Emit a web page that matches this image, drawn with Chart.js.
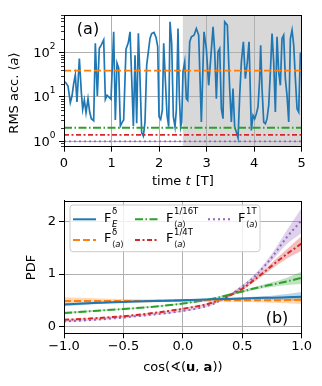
<!DOCTYPE html>
<html>
<head>
<meta charset="utf-8">
<title>RMS acceleration and alignment PDF</title>
<script src="https://cdn.jsdelivr.net/npm/chart.js@4"></script>
<style>
    body { margin: 0; background: #ffffff; }
    #wrap { position: relative; width: 322px; height: 386px; }
    #topChart { position: absolute; left: 0; top: 0; }
    #botChart { position: absolute; left: 0; top: 190px; }
</style>
</head>
<body>
<div id="wrap">
    <canvas id="topChart" width="322" height="190"></canvas>
    <canvas id="botChart" width="322" height="196"></canvas>
</div>
<script>
// ---- panel (a): RMS acceleration vs time ----
const times = [0, 0.035, 0.084, 0.133, 0.168, 0.203, 0.238, 0.273, 0.323, 0.365,
    0.393, 0.428, 0.463, 0.505, 0.54, 0.575, 0.624, 0.659, 0.701, 0.743,
    0.785, 0.835, 0.87, 0.905, 0.94, 0.989, 1.045, 1.08, 1.115, 1.15,
    1.185, 1.22, 1.255, 1.304, 1.353, 1.389, 1.424, 1.459, 1.494, 1.529,
    1.564, 1.599, 1.634, 1.669, 1.704, 1.739, 1.774, 1.809, 1.844, 1.893,
    1.935, 1.971, 1.999, 2.034, 2.069, 2.097, 2.132, 2.167, 2.202, 2.23,
    2.265, 2.3, 2.335, 2.363, 2.398, 2.426, 2.454, 2.475, 2.503, 2.539,
    2.574, 2.602, 2.644, 2.679, 2.735, 2.784, 2.833, 2.889, 2.945, 2.994,
    3.043, 3.086, 3.135, 3.17, 3.205, 3.24, 3.275, 3.31, 3.345, 3.38,
    3.436, 3.485, 3.52, 3.555, 3.59, 3.626, 3.661, 3.696, 3.731, 3.773,
    3.815, 3.857, 3.892, 3.941, 3.976, 4.011, 4.046, 4.081, 4.116, 4.137,
    4.166, 4.201, 4.236, 4.271, 4.306, 4.341, 4.376, 4.411, 4.446, 4.481,
    4.516, 4.551, 4.586, 4.621, 4.656, 4.691, 4.727, 4.762, 4.797, 4.832,
    4.867, 4.902, 4.937, 4.972, 5.0];
const rmsAcc = [22.2, 21.1, 17.7, 7.45, 10.5, 19.7, 31.4, 7.7, 73.2, 12.5,
    5.27, 8.56, 4.43, 9.17, 4.59, 3.25, 2.93, 162, 10.5, 125,
    149, 193, 8.86, 10.9, 10, 8.86, 293, 3.03, 57.5, 44.3,
    2.22, 2.64, 3.03, 119, 168, 293, 25.9, 2.22, 87.1, 2.55,
    273, 25.9, 1.57, 1.32, 2.73, 51.8, 104, 207, 268, 283,
    222, 137, 3.6, 3.13, 5.09, 162, 24.2, 3.93, 2.14, 492,
    162, 3.6, 2.14, 5.09, 348, 10.2, 2.14, 2.73, 36.6, 61.6,
    9.17, 8.41, 174, 226, 246, 348, 246, 2.73, 293, 123,
    18.3, 73.2, 379, 104, 9.17, 104, 123, 5.45, 3.25, 492,
    414, 15.4, 2.73, 15.4, 2.11, 1.62, 1.19, 10.9, 61.6, 174,
    25.9, 61.6, 174, 1.77, 3.86, 3.25, 4.21, 5.95, 25.9, 146,
    15.4, 2.73, 2.5, 3.25, 6.49, 36.6, 268, 61.6, 4.59, 226,
    36.6, 18.3, 207, 246, 25.9, 10.9, 2.73, 207, 319, 146,
    25.9, 5.45, 4.59, 94.9, 100];
// horizontal reference levels: F_<a>^delta, 1/16T, 1/4T, 1T
const refLevels = [39, 2.03, 1.41, 1.0];
const shadeStart = 2.5;
const timeTicks = [0, 1, 2, 3, 4, 5];
const accTicks = [1, 10, 100];

// ---- panel (b): PDF of cos(angle(u, a)) ----
const cosGrid = [-1, -0.75, -0.5, -0.25, 0, 0.25, 0.5, 0.625, 0.75, 0.875, 1];
const pdfEdelta   = [0.42, 0.45, 0.47, 0.49, 0.50, 0.52, 0.535, 0.545, 0.55, 0.56, 0.57];
const pdfAdelta   = [0.49, 0.49, 0.49, 0.49, 0.50, 0.50, 0.50, 0.50, 0.50, 0.505, 0.51];
const pdfA16      = [0.26, 0.30, 0.335, 0.38, 0.44, 0.53, 0.67, 0.74, 0.80, 0.86, 0.93];
const pdfA4       = [0.13, 0.16, 0.20, 0.26, 0.34, 0.46, 0.72, 0.93, 1.16, 1.38, 1.58];
const pdfA1       = [0.10, 0.13, 0.175, 0.23, 0.30, 0.43, 0.76, 1.0, 1.32, 1.70, 2.02];
const spreadEdelta = [0.03, 0.025, 0.02, 0.02, 0.02, 0.02, 0.025, 0.03, 0.04, 0.06, 0.09];
const spreadAdelta = [0.07, 0.05, 0.035, 0.03, 0.025, 0.025, 0.03, 0.035, 0.045, 0.06, 0.08];
const spreadA16    = [0.02, 0.015, 0.015, 0.015, 0.015, 0.02, 0.025, 0.03, 0.045, 0.07, 0.12];
const spreadA4     = [0.015, 0.012, 0.012, 0.012, 0.015, 0.02, 0.03, 0.04, 0.06, 0.09, 0.14];
const spreadA1     = [0.015, 0.012, 0.012, 0.012, 0.015, 0.02, 0.03, 0.045, 0.07, 0.13, 0.24];
const cosTicks = [-1, -0.5, 0, 0.5, 1];
const pdfTicks = [0, 1, 2];

const FONT = '"DejaVu Sans", sans-serif';
const C = {
    blue: '#1f77b4', orange: '#ff7f0e', green: '#2ca02c', red: '#d62728', purple: '#9467bd'
};
const DASH = {
    solid: [], dashed: [7, 3], dashdot: [8, 2.5, 1.5, 2.5], dense: [5, 2.5, 2, 2.5], dotted: [2, 3]
};

// draws a run of text pieces with different fonts / offsets
function drawRuns(ctx, runs, x, y, align) {
    let total = 0;
    runs.forEach(r => { ctx.font = r.font; r.w = ctx.measureText(r.text).width; total += r.w + (r.gap || 0); });
    let cx = align === 'center' ? x - total / 2 : (align === 'right' ? x - total : x);
    ctx.textAlign = 'left';
    ctx.textBaseline = 'middle';
    runs.forEach(r => {
        ctx.font = r.font;
        ctx.fillText(r.text, cx, y + (r.dy || 0));
        cx += r.w + (r.gap || 0);
    });
}

function frame(ctx, a) {
    ctx.save();
    ctx.strokeStyle = '#000';
    ctx.lineWidth = 1;
    ctx.strokeRect(Math.round(a.left) + 0.5, Math.round(a.top) + 0.5,
        Math.round(a.right - a.left) - 1, Math.round(a.bottom - a.top) - 1);
    ctx.restore();
}

function axisCommon(ticksArr, fmt, pad) {
    return {
        afterBuildTicks: s => { s.ticks = ticksArr.map(v => ({ value: v })); },
        grid: { color: '#b0b0b0', lineWidth: 1, tickColor: '#000', tickLength: 5, tickWidth: 1 },
        border: { display: true, color: '#000', width: 1 },
        ticks: { color: '#000', font: { family: FONT, size: 13 }, padding: pad, callback: fmt }
    };
}

// ---------------- top chart ----------------
const topDecor = {
    id: 'topDecor',
    beforeDraw(chart) {
        const { ctx, chartArea: a, scales } = chart;
        const x0 = scales.x.getPixelForValue(shadeStart);
        ctx.save();
        ctx.fillStyle = '#d8d8d8';
        ctx.fillRect(x0, a.top, a.right - x0, a.bottom - a.top);
        ctx.restore();
    },
    afterDraw(chart) {
        const { ctx, chartArea: a, scales } = chart;
        frame(ctx, a);
        ctx.save();
        ctx.fillStyle = '#000';
        ctx.strokeStyle = '#000';
        // minor log ticks
        ctx.lineWidth = 0.8;
        const y = scales.y;
        [0.8, 0.9, 2, 3, 4, 5, 6, 7, 8, 9, 20, 30, 40, 50, 60, 70, 80, 90, 200, 300, 400, 500, 600, 700].forEach(v => {
            if (v < y.min || v > y.max) return;
            const py = Math.round(y.getPixelForValue(v)) + 0.5;
            ctx.beginPath(); ctx.moveTo(a.left - 3, py); ctx.lineTo(a.left, py); ctx.stroke();
        });
        // log tick labels 10^n
        accTicks.forEach(v => {
            const py = y.getPixelForValue(v);
            const e = String(Math.round(Math.log10(v)));
            ctx.font = '9px ' + FONT;
            const we = ctx.measureText(e).width;
            drawRuns(ctx, [{ text: '10', font: '13px ' + FONT }], 55.5 - we, py + 1, 'right');
            drawRuns(ctx, [{ text: e, font: '9px ' + FONT }], 55.5 - we, py - 6, 'left');
        });
        // axis titles
        drawRuns(ctx, [
            { text: 'time ', font: '13px ' + FONT },
            { text: 't', font: 'italic 13px ' + FONT, gap: 1 },
            { text: ' [T]', font: '13px ' + FONT }
        ], (a.left + a.right) / 2, 182, 'center');
        ctx.save();
        ctx.translate(15, 93);
        ctx.rotate(-Math.PI / 2);
        drawRuns(ctx, [
            { text: 'RMS acc. \u27E8', font: '13px ' + FONT },
            { text: 'a', font: 'italic 13px ' + FONT },
            { text: '\u27E9', font: '13px ' + FONT }
        ], 0, 0, 'center');
        ctx.restore();
        drawRuns(ctx, [{ text: '(a)', font: '16px ' + FONT }], 88, 30, 'center');
        ctx.restore();
    }
};

const topDatasets = refLevels.map((lvl, i) => ({
    data: [{ x: 0, y: lvl }, { x: 5, y: lvl }],
    borderColor: [C.orange, C.green, C.red, C.purple][i],
    borderDash: [DASH.dashed, DASH.dashdot, DASH.dense, DASH.dotted][i],
    borderWidth: 1.8,
    pointRadius: 0,
    order: 1
}));
topDatasets.push({
    data: times.map((t, i) => ({ x: t, y: rmsAcc[i] })),
    borderColor: C.blue,
    borderWidth: 1.7,
    pointRadius: 0,
    tension: 0,
    order: 2
});

new Chart(document.getElementById('topChart'), {
    type: 'line',
    data: { datasets: topDatasets },
    options: {
        responsive: false,
        animation: false,
        events: [],
        layout: { padding: { left: 0, top: 15, right: 20.3, bottom: 0 } },
        plugins: { legend: { display: false }, tooltip: { enabled: false } },
        scales: {
            x: Object.assign(axisCommon(timeTicks, v => String(v), 4), {
                type: 'linear', min: 0, max: 5,
                afterFit: s => { s.height = 43.3; }
            }),
            y: Object.assign(axisCommon(accTicks, () => '', 3), {
                type: 'logarithmic', min: 0.76, max: 700,
                afterFit: s => { s.width = 64; }
            })
        }
    },
    plugins: [topDecor]
});

// ---------------- bottom chart ----------------
const botSeries = [
    { vals: pdfEdelta, spread: spreadEdelta, color: C.blue, dash: DASH.solid },
    { vals: pdfAdelta, spread: spreadAdelta, color: C.orange, dash: DASH.dashed },
    { vals: pdfA16, spread: spreadA16, color: C.green, dash: DASH.dashdot },
    { vals: pdfA4, spread: spreadA4, color: C.red, dash: DASH.dense },
    { vals: pdfA1, spread: spreadA1, color: C.purple, dash: DASH.dotted }
];

function rgba(hex, a) {
    const n = parseInt(hex.slice(1), 16);
    return `rgba(${n >> 16},${(n >> 8) & 255},${n & 255},${a})`;
}

const botDatasets = [];
botSeries.forEach((s, k) => {
    botDatasets.push({
        data: cosGrid.map((c, i) => ({ x: c, y: s.vals[i] })),
        borderColor: s.color, borderDash: s.dash, borderWidth: 2,
        pointRadius: 0, cubicInterpolationMode: 'monotone', fill: false, order: 1 + k
    });
});
botSeries.forEach((s, k) => {
    botDatasets.push({
        data: cosGrid.map((c, i) => ({ x: c, y: s.vals[i] + s.spread[i] })),
        borderWidth: 0, pointRadius: 0, cubicInterpolationMode: 'monotone',
        backgroundColor: rgba(s.color, 0.3), fill: '+1', order: 20
    });
    botDatasets.push({
        data: cosGrid.map((c, i) => ({ x: c, y: s.vals[i] - s.spread[i] })),
        borderWidth: 0, pointRadius: 0, cubicInterpolationMode: 'monotone',
        fill: false, order: 20
    });
});

const legendItems = [
    { color: C.blue, dash: DASH.solid, sup: '\u03B4', sub: [{ t: 'E', it: true }], col: 0, row: 0 },
    { color: C.orange, dash: DASH.dashed, sup: '\u03B4', sub: [{ t: '\u27E8' }, { t: 'a', it: true }, { t: '\u27E9' }], col: 0, row: 1 },
    { color: C.green, dash: DASH.dashdot, sup: '1/16T', sub: [{ t: '\u27E8' }, { t: 'a', it: true }, { t: '\u27E9' }], col: 1, row: 0 },
    { color: C.red, dash: DASH.dense, sup: '1/4T', sub: [{ t: '\u27E8' }, { t: 'a', it: true }, { t: '\u27E9' }], col: 1, row: 1 },
    { color: C.purple, dash: DASH.dotted, sup: '1T', sub: [{ t: '\u27E8' }, { t: 'a', it: true }, { t: '\u27E9' }], col: 2, row: 0 }
];

const botDecor = {
    id: 'botDecor',
    afterDraw(chart) {
        const { ctx, chartArea: a } = chart;
        frame(ctx, a);
        ctx.save();
        // legend box
        const bx = 70, by = 15, bw = 190, bh = 46.7, r = 3;
        ctx.beginPath();
        ctx.moveTo(bx + r, by);
        ctx.arcTo(bx + bw, by, bx + bw, by + bh, r);
        ctx.arcTo(bx + bw, by + bh, bx, by + bh, r);
        ctx.arcTo(bx, by + bh, bx, by, r);
        ctx.arcTo(bx, by, bx + bw, by, r);
        ctx.closePath();
        ctx.fillStyle = 'rgba(255,255,255,0.8)';
        ctx.fill();
        ctx.strokeStyle = '#cccccc';
        ctx.lineWidth = 1;
        ctx.stroke();
        const colLine = [73, 135, 208];
        const colText = [104, 166, 238];
        const rowY = [29.3, 50];
        legendItems.forEach(it => {
            const y = rowY[it.row];
            ctx.strokeStyle = it.color;
            ctx.lineWidth = 2;
            ctx.setLineDash(it.dash);
            ctx.beginPath();
            ctx.moveTo(colLine[it.col], y);
            ctx.lineTo(colLine[it.col] + 23, y);
            ctx.stroke();
            ctx.setLineDash([]);
            ctx.fillStyle = '#000';
            const tx = colText[it.col];
            ctx.font = '13px ' + FONT;
            const wF = ctx.measureText('F').width;
            drawRuns(ctx, [{ text: 'F', font: '13px ' + FONT }], tx, y - 1, 'left');
            drawRuns(ctx, [{ text: it.sup, font: '8.5px ' + FONT }], tx + wF + 0.5, y - 7.5, 'left');
            drawRuns(ctx, it.sub.map(s => ({ text: s.t, font: (s.it ? 'italic ' : '') + '8.5px ' + FONT })),
                tx + wF + 0.5, y + 5, 'left');
        });
        ctx.fillStyle = '#000';
        // axis titles
        drawRuns(ctx, [
            { text: 'cos(\u2222(', font: '13px ' + FONT },
            { text: 'u', font: 'bold 13px ' + FONT },
            { text: ', ', font: '13px ' + FONT },
            { text: 'a', font: 'bold 13px ' + FONT },
            { text: '))', font: '13px ' + FONT }
        ], (a.left + a.right) / 2, 178, 'center');
        ctx.save();
        ctx.translate(31.5, 77.5);
        ctx.rotate(-Math.PI / 2);
        drawRuns(ctx, [{ text: 'PDF', font: '13px ' + FONT }], 0, 0, 'center');
        ctx.restore();
        drawRuns(ctx, [{ text: '(b)', font: '16px ' + FONT }], 277, 129, 'center');
        ctx.restore();
    }
};

new Chart(document.getElementById('botChart'), {
    type: 'line',
    data: { datasets: botDatasets },
    options: {
        responsive: false,
        animation: false,
        events: [],
        layout: { padding: { left: 0, top: 10, right: 20.3, bottom: 0 } },
        plugins: { legend: { display: false }, tooltip: { enabled: false }, filler: { propagate: false } },
        scales: {
            x: Object.assign(axisCommon(cosTicks, v => (v < 0 ? '\u2212' : '') + Math.abs(v).toFixed(1), 1), {
                type: 'linear', min: -1, max: 1,
                afterFit: s => { s.height = 52.7; }
            }),
            y: Object.assign(axisCommon(pdfTicks, v => String(v), 3), {
                type: 'linear', min: -0.125, max: 2.39,
                afterFit: s => { s.width = 64; }
            })
        }
    },
    plugins: [botDecor]
});
</script>
</body>
</html>
